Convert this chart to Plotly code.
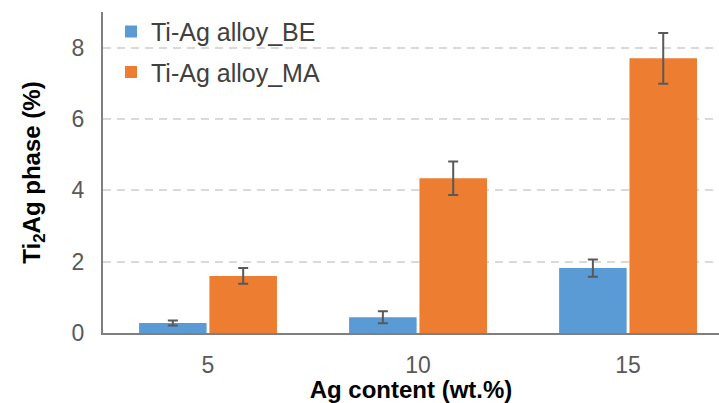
import plotly.graph_objects as go

# Ag content categories (wt.%)
categories = ["5", "10", "15"]

# Ti2Ag phase fraction (%) and standard deviation per processing route
be_values = [0.28, 0.44, 1.82]
be_errors = [0.07, 0.17, 0.24]
ma_values = [1.60, 4.34, 7.70]
ma_errors = [0.22, 0.47, 0.71]

y_ticks = [0, 2, 4, 6, 8]

FONT = "Liberation Sans, Arial, sans-serif"
x_pos = list(range(len(categories)))

fig = go.Figure()
fig.add_trace(go.Bar(
    x=x_pos, y=be_values, name="Ti-Ag alloy_BE",
    marker=dict(color="#5B9BD5", line=dict(width=0)),
    error_y=dict(type="data", array=be_errors, color="#595959", thickness=2, width=5),
    legendgroup="be",
))
fig.add_trace(go.Bar(
    x=x_pos, y=ma_values, name="Ti-Ag alloy_MA",
    marker=dict(color="#ED7D31", line=dict(width=0)),
    error_y=dict(type="data", array=ma_errors, color="#595959", thickness=2, width=5),
    legendgroup="ma",
))

fig.update_layout(
    width=719, height=403,
    margin=dict(l=103, r=0, t=12, b=70),
    paper_bgcolor="white", plot_bgcolor="white",
    barmode="group", bargap=0.33, bargroupgap=0.04,
    font=dict(family=FONT, size=23, color="#595959"),
    showlegend=True,
    legend=dict(
        x=0.013, y=1.01, xanchor="left", yanchor="top",
        bgcolor="rgba(0,0,0,0)", font=dict(size=25, color="#404040"),
        tracegroupgap=5, itemwidth=30,
    ),
    xaxis=dict(
        tickmode="array", tickvals=x_pos, ticktext=categories,
        range=[-0.5, 2.433],
        showline=True, linecolor="#7f7f7f", linewidth=2,
        ticks="", ticklabelstandoff=10,
        showgrid=False, zeroline=False,
        title=dict(text="Ag content (wt.%)", standoff=3,
                   font=dict(family=FONT, size=24, color="black", weight="bold")),
    ),
    yaxis=dict(
        range=[0, 9], tickvals=y_ticks,
        showline=True, linecolor="#7f7f7f", linewidth=2,
        ticks="", ticklabelstandoff=12,
        showgrid=True, gridcolor="#d9d9d9", griddash="8px,6px", gridwidth=1.5,
        zeroline=False,
        title=dict(text="Ti<sub>2</sub>Ag phase (%)", standoff=24,
                   font=dict(family=FONT, size=24, color="black", weight="bold")),
    ),
)

fig.write_html("out.html")
